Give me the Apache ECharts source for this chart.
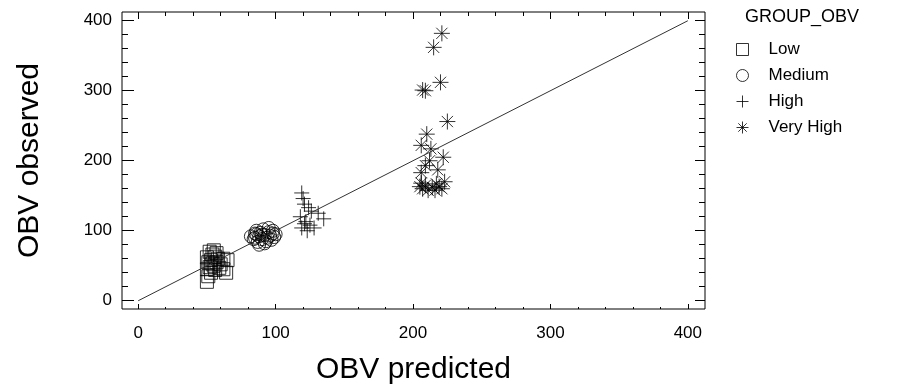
<!DOCTYPE html>
<html>
<head>
<meta charset="utf-8">
<script src="https://cdn.jsdelivr.net/npm/echarts@6/dist/echarts.min.js"></script>
<style>
  html, body { margin: 0; padding: 0; background: #fff; }
  #chart { width: 899px; height: 392px; }
</style>
</head>
<body>
<div id="chart"></div>
<script>
// [predicted, observed] pairs
const lowPoints = [
  [50, 27], [51, 35], [52, 70], [50, 62], [53, 58], [54, 66], [55, 50], [56, 44],
  [52, 48], [57, 55], [58, 60], [55, 72], [60, 52], [62, 45], [64, 40], [65, 58],
  [53, 40], [51, 55], [56, 63], [59, 47], [54, 53], [57, 68], [62, 60], [50, 45]
];
const mediumPoints = [
  [82, 92], [84, 88], [85, 96], [86, 100], [87, 84], [88, 92], [89, 97], [90, 88],
  [91, 102], [92, 94], [93, 85], [94, 90], [95, 98], [96, 93], [97, 87], [98, 100],
  [99, 91], [100, 95], [88, 80], [92, 82], [85, 90], [95, 104], [90, 94], [86, 95], [98, 96]
];
const highPoints = [
  [119, 154], [120, 146], [121, 138], [124, 133], [126, 128], [131, 125], [118, 120],
  [135, 117], [122, 113], [125, 108], [119, 104], [128, 104], [123, 100], [121, 110]
];
const veryHighPoints = [
  [221, 382], [215, 362], [220, 312], [207, 301], [209, 300], [225, 256], [210, 238],
  [206, 222], [213, 217], [222, 205], [212, 200], [209, 193], [218, 187], [206, 183],
  [205, 163], [207, 160], [209, 165], [211, 158], [214, 162], [217, 167], [219, 163],
  [221, 160], [223, 170], [216, 158], [206, 168]
];
const diagonal = [[0, 0], [400, 400]];

const groupNames = ['Low', 'Medium', 'High', 'Very High'];
const majorTicks = [0, 100, 200, 300, 400];
const minorTicks = [20, 40, 60, 80, 120, 140, 160, 180, 220, 240, 260, 280, 320, 340, 360, 380];
const axisMin = -11.8;
const axisMax = 412.5;

const chart = echarts.init(document.getElementById('chart'));

const font = 'Liberation Sans, Arial, sans-serif';
const black = '#000';
const box = { left: 122, right: 194, top: 12, bottom: 83 };

// one value axis that only draws ticks at the given values, on the frame edge
function tickAxis(grid, position, ticks, len, opts) {
  return Object.assign({
    type: 'value',
    gridIndex: grid,
    position: position,
    min: axisMin,
    max: axisMax,
    axisLine: { show: false, onZero: false },
    splitLine: { show: false },
    axisTick: { show: true, inside: true, length: len, customValues: ticks, lineStyle: { color: black, width: 1 } },
    axisLabel: { show: false }
  }, opts || {});
}

const hollow = { color: 'rgba(0,0,0,0)', borderColor: black, borderWidth: 1 };

chart.setOption({
  animation: false,
  backgroundColor: '#fff',
  textStyle: { fontFamily: font },
  // grid 0 holds the data and major ticks, grid 1 only the minor ticks
  grid: [
    Object.assign({ show: true, borderColor: black, borderWidth: 1, backgroundColor: 'transparent' }, box),
    Object.assign({ show: false }, box)
  ],
  graphic: [{
    type: 'text', left: 745, top: 8,
    style: { text: 'GROUP_OBV', fontSize: 18, fontFamily: font, fill: black }
  }],
  legend: {
    orient: 'vertical',
    left: 731, top: 36,
    itemWidth: 12, itemHeight: 12, itemGap: 9,
    data: groupNames,
    textStyle: { fontSize: 17, color: black, fontFamily: font, padding: [0, 0, 0, 15] },
    itemStyle: { borderWidth: 1, borderColor: black, color: 'rgba(0,0,0,0)' }
  },
  xAxis: [
    tickAxis(0, 'bottom', majorTicks, 5, {
      name: 'OBV predicted', nameLocation: 'middle', nameGap: 46,
      nameTextStyle: { fontSize: 30, color: black, fontFamily: font },
      axisLabel: { show: true, customValues: majorTicks, fontSize: 17, color: black, margin: 16, fontFamily: font }
    }),
    tickAxis(0, 'top', majorTicks, 7),
    tickAxis(1, 'bottom', minorTicks, 2),
    tickAxis(1, 'top', minorTicks, 4)
  ],
  yAxis: [
    tickAxis(0, 'left', majorTicks, 12, {
      name: 'OBV observed', nameLocation: 'middle', nameGap: 77,
      nameTextStyle: { fontSize: 30, color: black, fontFamily: font },
      axisLabel: { show: true, customValues: majorTicks, fontSize: 17, color: black, margin: 10, fontFamily: font }
    }),
    tickAxis(0, 'right', majorTicks, 10),
    tickAxis(1, 'left', minorTicks, 6),
    tickAxis(1, 'right', minorTicks, 6)
  ],
  series: [
    {
      type: 'line', data: diagonal, symbol: 'none', silent: true,
      lineStyle: { color: '#333', width: 1 }
    },
    {
      name: 'Low', type: 'scatter', data: lowPoints,
      symbol: 'rect', symbolSize: 13, itemStyle: hollow
    },
    {
      name: 'Medium', type: 'scatter', data: mediumPoints,
      symbol: 'circle', symbolSize: 13, itemStyle: hollow
    },
    {
      name: 'High', type: 'scatter', data: highPoints,
      symbol: 'path://M0,5 L10,5 M5,0 L5,10', symbolSize: 15, itemStyle: hollow
    },
    {
      name: 'Very High', type: 'scatter', data: veryHighPoints,
      symbol: 'path://M5,0 L5,10 M0,5 L10,5 M1.5,1.5 L8.5,8.5 M1.5,8.5 L8.5,1.5', symbolSize: 16, itemStyle: hollow
    }
  ]
});
</script>
</body>
</html>
